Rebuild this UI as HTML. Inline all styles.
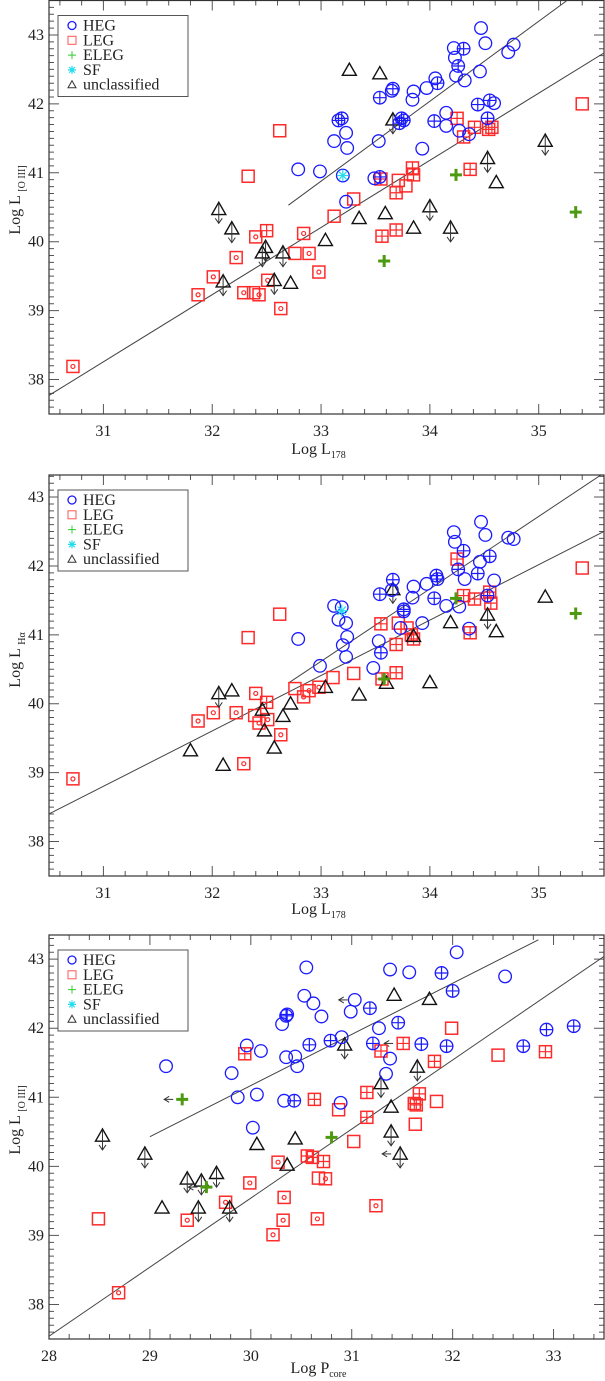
<!DOCTYPE html>
<html><head><meta charset="utf-8"><style>
html,body{margin:0;padding:0;background:#fff;}
svg{display:block;font-family:"Liberation Serif",serif;}
</style></head><body>
<svg id="fig" xmlns="http://www.w3.org/2000/svg" width="605" height="1381" viewBox="0 0 605 1381"></svg>
<script>
// ---------- Panel 1 data: Log L[OIII] vs Log L178 ----------
const p1Heg=[[34.47,43.10],[34.51,42.88],[34.77,42.86],[34.72,42.75],[34.22,42.81],[34.31,42.80,'+'],[34.23,42.67],[34.26,42.55,'+'],[34.24,42.41],[34.32,42.34],[34.46,42.47],[34.05,42.37],[34.07,42.30,'+'],[33.97,42.23],[33.85,42.18],[33.84,42.06],[33.66,42.22,'+'],[33.65,42.19],[33.54,42.09,'+'],[34.44,41.99,'+'],[34.55,42.05,'+'],[34.59,42.01],[34.15,41.87],[34.04,41.75,'+'],[34.15,41.68],[34.27,41.61],[34.36,41.56],[34.53,41.79,'+'],[33.74,41.79,'+'],[33.76,41.76,'+'],[33.72,41.72,'+'],[33.19,41.79,'+'],[33.16,41.76,'+'],[33.23,41.58],[33.12,41.46],[33.24,41.36],[33.53,41.46],[33.93,41.35],[32.99,41.02],[32.79,41.05],[33.49,40.92],[33.54,40.94,'+'],[33.23,40.58],[33.20,40.96]];
const p1Leg=[[32.62,41.61,''],[32.33,40.95,''],[30.72,38.19,'o'],[31.87,39.23,'o'],[32.01,39.49,'o'],[32.22,39.77,'o'],[32.40,40.07,'o'],[32.50,40.16,'+'],[32.29,39.26,'o'],[32.38,39.26,''],[32.43,39.23,'o'],[32.51,39.44,'o'],[32.63,39.03,'o'],[32.84,40.12,'o'],[32.76,39.83,''],[32.89,39.83,'o'],[32.98,39.56,'o'],[33.12,40.37,''],[35.40,42.0,''],[34.25,41.79,'+'],[34.41,41.66,'+'],[34.31,41.52,'+'],[34.54,41.63,'+'],[34.57,41.66,'+'],[34.37,41.05,'+'],[33.84,41.07,'+'],[33.85,40.97,'+'],[33.55,40.91,'+'],[33.71,40.89,''],[33.78,40.81,''],[33.69,40.71,'+'],[33.30,40.62,''],[33.69,40.17,'+'],[33.56,40.08,'+']];
const p1Eleg=[[34.24,40.97],[35.34,40.43],[33.58,39.72]];
const p1Sf=[[33.20,40.96]];
const p1Unc=[[32.06,40.47,'d'],[32.18,40.19,'d'],[32.49,39.92,'d'],[32.46,39.84,'d'],[32.65,39.84,'d'],[32.10,39.42,'d'],[32.57,39.44,'d'],[32.72,39.40,''],[33.04,40.02,''],[33.26,42.49,''],[33.54,42.44,''],[33.66,41.77,'d'],[35.06,41.46,'d'],[34.53,41.21,'d'],[34.61,40.86,''],[33.35,40.34,''],[33.59,40.41,''],[34.0,40.51,'d'],[33.85,40.20,''],[34.19,40.20,'d']];
const p1Lines=[[30.5,37.77,35.6,42.74],[32.70,40.53,35.26,43.5]];
// ---------- Panel 2 data: Log L(Halpha) vs Log L178 ----------
const p2Heg=[[34.47,42.64],[34.51,42.45],[34.72,42.41],[34.77,42.39],[34.22,42.49],[34.23,42.35],[34.31,42.22,'+'],[34.46,42.06],[34.55,42.14,'+'],[34.26,41.95,'+'],[34.32,41.81],[34.44,41.89,'+'],[34.59,41.79],[34.06,41.86,'+'],[34.07,41.81,'+'],[33.97,41.74],[33.85,41.70],[33.84,41.54],[33.66,41.80,'+'],[33.65,41.65],[33.54,41.59,'+'],[34.04,41.53,'+'],[34.15,41.42],[34.27,41.41],[34.53,41.57,'+'],[33.76,41.34,'+'],[33.76,41.37,'+'],[33.12,41.42],[33.19,41.40],[33.16,41.22],[33.23,41.17],[33.24,40.97],[33.20,40.85],[33.23,40.68],[32.99,40.55],[32.79,40.94],[33.53,40.91],[33.55,40.74,'+'],[33.48,40.52],[33.73,41.10],[33.93,41.17],[34.36,41.09]];
const p2Leg=[[32.62,41.30,''],[32.33,40.96,''],[30.72,38.91,'o'],[31.87,39.75,'o'],[32.01,39.87,'o'],[32.22,39.87,'o'],[32.40,40.15,'o'],[32.50,40.02,'+'],[32.43,39.72,'o'],[32.39,39.83,''],[32.51,39.77,'o'],[32.63,39.55,'o'],[32.29,39.13,'o'],[32.76,40.22,''],[32.84,40.10,'o'],[32.89,40.19,'o'],[32.98,40.24,'o'],[33.11,40.38,''],[35.40,41.97,''],[34.25,42.10,'+'],[34.31,41.57,'+'],[34.41,41.52,'+'],[34.55,41.62,'+'],[34.56,41.46,'+'],[34.37,41.03,'+'],[33.55,41.16,'+'],[33.71,41.17,''],[33.79,41.10,''],[33.83,41.0,'+'],[33.85,40.94,'+'],[33.69,40.86,'+'],[33.30,40.44,''],[33.69,40.45,'+'],[33.56,40.36,'+']];
const p2Eleg=[[34.24,41.53],[35.34,41.31],[33.58,40.36]];
const p2Sf=[[33.19,41.35]];
const p2Unc=[[32.06,40.15,'d'],[32.18,40.19,''],[32.46,39.91,''],[32.48,39.61,''],[32.65,39.82,''],[32.72,40.0,''],[32.57,39.36,''],[32.10,39.11,''],[31.80,39.32,''],[33.04,40.24,''],[33.66,41.66,'d'],[35.06,41.55,''],[34.53,41.29,'d'],[34.61,41.05,''],[34.19,41.18,''],[33.85,40.98,''],[33.35,40.13,''],[33.60,40.30,''],[34.0,40.31,'']];
const p2Lines=[[30.5,38.40,35.6,42.50],[32.70,40.30,35.6,43.35]];
// ---------- Panel 3 data: Log L[OIII] vs Log P_core ----------
const p3Heg=[[29.16,41.45],[29.96,41.75],[30.10,41.67],[29.81,41.35],[29.87,41.00],[30.06,41.04],[30.02,40.56],[30.31,42.06],[30.36,42.20,'+'],[30.35,42.18,'+'],[30.53,42.47],[30.62,42.36],[30.70,42.17],[30.35,41.58],[30.44,41.59],[30.46,41.45],[30.58,41.76,'+'],[30.79,41.82,'+'],[30.90,41.87],[30.33,40.95],[30.43,40.95,'+'],[30.89,40.92],[32.04,43.10],[31.38,42.85],[31.57,42.81],[31.89,42.80,'+'],[32.52,42.75],[30.55,42.88],[32.0,42.54,'+'],[31.03,42.41,'l'],[30.99,42.24],[31.18,42.29,'+'],[31.46,42.08,'+'],[31.27,42.0],[31.21,41.78,'+'],[31.69,41.77,'+'],[31.94,41.74,'+'],[31.38,41.56],[31.34,41.34],[32.70,41.74,'+'],[32.93,41.98,'+'],[33.20,42.03,'+']];
const p3Leg=[[29.94,41.63,'+'],[30.63,40.97,'+'],[30.87,40.82,''],[28.49,39.24,''],[28.69,38.17,'o'],[29.37,39.22,'o'],[29.75,39.48,'o'],[29.99,39.76,'o'],[30.27,40.06,'o'],[30.33,39.55,'o'],[30.32,39.22,'o'],[30.22,39.01,'o'],[30.66,39.24,'o'],[30.56,40.15,'+'],[30.61,40.13,'+'],[30.72,40.07,'+'],[30.67,39.83,''],[30.74,39.82,'o'],[31.99,42.0,''],[31.51,41.78,'l'],[31.29,41.67,'+'],[31.82,41.52,'+'],[32.45,41.61,''],[32.92,41.66,'+'],[31.15,41.07,'+'],[31.67,41.05,'+'],[31.62,40.91,'+'],[31.64,40.89,'+'],[31.84,40.94,''],[31.63,40.61,''],[31.15,40.71,'+'],[31.02,40.36,''],[31.24,39.43,'o']];
const p3Eleg=[[29.32,40.97,'l'],[29.56,39.70,'l'],[30.80,40.42]];
const p3Sf=[];
const p3Unc=[[28.53,40.44,'d'],[28.95,40.18,'d'],[29.37,39.82,'d'],[29.51,39.79,'d'],[29.66,39.90,'d'],[29.48,39.40,'d'],[29.79,39.40,'d'],[29.12,39.40,''],[30.06,40.32,''],[30.44,40.40,''],[30.36,40.02,''],[30.93,41.76,'d'],[31.42,42.48,''],[31.77,42.42,''],[31.65,41.44,'d'],[31.29,41.20,'d'],[31.39,40.86,''],[31.39,40.50,'d'],[31.48,40.18,'dl']];
const p3Lines=[[29.0,40.43,32.85,43.28],[28.0,37.54,33.5,43.04]];
const xTicks12=[31,32,33,34,35];
const xTicks3=[28,29,30,31,32,33];
const yTicks=[38,39,40,41,42,43];
const legendLabels=['HEG','LEG','ELEG','SF','unclassified'];

const NS='http://www.w3.org/2000/svg';
const svg=document.getElementById('fig');
function mk(tag,attrs,parent){const e=document.createElementNS(NS,tag);for(const k in attrs)e.setAttribute(k,attrs[k]);(parent||svg).appendChild(e);return e;}
const BLUE='#1a1aff',RED='#ff2a2a',GREEN='#4d9a10',CYAN='#22ddee',BLACK='#111';

function arrowDown(g,cx,cy,len){mk('line',{x1:cx,y1:cy-6,x2:cx,y2:cy+len,stroke:'#333','stroke-width':1},g);mk('polyline',{points:`${cx-3.5},${cy+len-5} ${cx},${cy+len} ${cx+3.5},${cy+len-5}`,fill:'none',stroke:'#333','stroke-width':1},g);}
function arrowLeft(g,cx,cy){mk('line',{x1:cx-4,y1:cy,x2:cx-13,y2:cy,stroke:'#333','stroke-width':1},g);mk('polyline',{points:`${cx-8},${cy-3} ${cx-13},${cy} ${cx-8},${cy+3}`,fill:'none',stroke:'#333','stroke-width':1},g);}
function circ(g,cx,cy,f,r){mk('circle',{cx,cy,r:r||6.3,fill:'none',stroke:BLUE,'stroke-width':1.3},g);if(f==='+'){mk('path',{d:`M${cx-6.3},${cy}H${cx+6.3}M${cx},${cy-6.3}V${cy+6.3}`,stroke:BLUE,'stroke-width':1.2},g);}if(f==='l')arrowLeft(g,cx-3,cy);}
function sq(g,cx,cy,f,s){s=s||6;mk('rect',{x:cx-s,y:cy-s,width:2*s,height:2*s,fill:'none',stroke:RED,'stroke-width':1.5},g);if(f==='o')mk('circle',{cx,cy,r:2,fill:'none',stroke:RED,'stroke-width':1.2},g);if(f==='+'||f==='l')mk('path',{d:`M${cx-s},${cy}H${cx+s}M${cx},${cy-s}V${cy+s}`,stroke:RED,'stroke-width':1.2},g);if(f==='l')arrowLeft(g,cx-6,cy);}
function tri(g,cx,cy,f,s){s=s||7;mk('polygon',{points:`${cx},${cy-s} ${cx-s},${cy+s*0.75} ${cx+s},${cy+s*0.75}`,fill:'none',stroke:BLACK,'stroke-width':1.4},g);if(f&&f.indexOf('d')>=0)arrowDown(g,cx,cy,14);if(f&&f.indexOf('l')>=0)arrowLeft(g,cx-5,cy);}
function plus(g,cx,cy,f,s,w){s=s||6;mk('path',{d:`M${cx-s},${cy}H${cx+s}M${cx},${cy-s}V${cy+s}`,stroke:GREEN,'stroke-width':w||3},g);if(f==='l')arrowLeft(g,cx-5,cy);}
function star(g,cx,cy,s){s=s||6;let d='';for(let i=0;i<4;i++){const a=i*Math.PI/4;d+=`M${cx-s*Math.cos(a)},${cy-s*Math.sin(a)}L${cx+s*Math.cos(a)},${cy+s*Math.sin(a)}`;}mk('path',{d,stroke:CYAN,'stroke-width':1.2},g);}

function panel(o){
  const g=mk('g',{});
  
  
  const X=v=>o.L+(v-o.x0)/(o.x1-o.x0)*(o.R-o.L);
  const Y=v=>o.B-(v-o.y0)/(o.y1-o.y0)*(o.B-o.T);
  const tg=mk('g',{},g);
  
  
  let d='';
  for(let v=Math.ceil(o.x0*5)/5;v<=o.x1+1e-6;v+=0.2){const px=X(v);const major=Math.abs(v-Math.round(v))<1e-6;const l=major?10:5;d+=`M${px},${o.B}V${o.B-l}M${px},${o.T}V${o.T+l}`;}
  for(let v=Math.ceil(o.y0*10)/10;v<=o.y1+1e-6;v+=0.1){const py=Y(v);const major=Math.abs(v-Math.round(v))<1e-6;const l=major?10:5;d+=`M${o.L},${py}H${o.L+l}M${o.R},${py}H${o.R-l}`;}
  mk('path',{d,stroke:'#555','stroke-width':1},tg);
  o.xt.forEach(v=>{const t=mk('text',{x:X(v),y:o.B+22,'text-anchor':'middle','font-size':16,fill:'#222'},g);t.textContent=v;});
  yTicks.forEach(v=>{const t=mk('text',{x:o.L-5,y:Y(v)+5,'text-anchor':'end','font-size':16,fill:'#222'},g);t.textContent=v;});
  const fr=mk('rect',{x:o.L,y:o.T,width:o.R-o.L,height:o.B-o.T,fill:'none',stroke:'#333','stroke-width':1.2},g);
  
  
  const xt=mk('text',{x:(o.L+o.R)/2-8,y:o.B+o.xty,'text-anchor':'middle','font-size':16,fill:'#222'},g);
  xt.innerHTML=o.xlab+'<tspan font-size="10" dy="4">'+o.xsub+'</tspan>';
  
  
  const yc=o.ylabY;
  const yt=mk('text',{x:0,y:0,'text-anchor':'middle','font-size':16,fill:'#222',transform:`translate(20,${yc}) rotate(-90)`},g);
  yt.innerHTML=o.ylab+'<tspan font-size="10" dy="5">'+o.ysub+'</tspan>';
  
  
  const cid='c'+o.name;
  const cp=mk('clipPath',{id:cid},g);mk('rect',{x:o.L,y:o.T,width:o.R-o.L,height:o.B-o.T},cp);
  const pg=mk('g',{'clip-path':`url(#${cid})`},g);
  
  
  o.lines.forEach(l=>{const ln=mk('line',{x1:X(l[0]),y1:Y(l[1]),x2:X(l[2]),y2:Y(l[3]),stroke:'#444','stroke-width':1},pg);});
  o.leg.forEach(p=>{const m=mk('g',{},pg);sq(m,X(p[0]),Y(p[1]),p[2]);});
  o.unc.forEach(p=>{const m=mk('g',{},pg);tri(m,X(p[0]),Y(p[1]),p[2]);});
  o.heg.forEach(p=>{const m=mk('g',{},pg);circ(m,X(p[0]),Y(p[1]),p[2]);});
  o.eleg.forEach(p=>{const m=mk('g',{},pg);plus(m,X(p[0]),Y(p[1]),p[2]);});
  o.sf.forEach(p=>{const m=mk('g',{},pg);star(m,X(p[0]),Y(p[1]));});
  const lg=mk('g',{},g);
  
  
  const lt=o.T+15;
  mk('rect',{x:58,y:lt,width:130,height:81,fill:'#fff',stroke:'#555','stroke-width':1},lg);
  legendLabels.forEach((lab,i)=>{
    const cy=lt+10+i*14.8;
    const e=mk('g',{},lg);
    
    
    if(i===0)circ(e,72,cy,'',4);
    if(i===1)mk('rect',{x:68,y:cy-4,width:8,height:8,fill:'none',stroke:'#f55','stroke-width':1},e);
    if(i===2)mk('path',{d:`M68,${cy}H76M72,${cy-4}V${cy+4}`,stroke:'#3c3','stroke-width':1},e);
    if(i===3)star(e,72,cy,4);
    if(i===4)mk('polygon',{points:`72,${cy-4} 68,${cy+3} 76,${cy+3}`,fill:'none',stroke:'#333','stroke-width':1},e);
    const t=mk('text',{x:83,y:cy+5,'font-size':16,fill:'#222'},e);t.textContent=lab;
  });
}

panel({name:'panel-oiii-vs-l178',L:49,R:604,T:0.5,B:414,x0:30.5,x1:35.6,y0:37.5,y1:43.5,xt:xTicks12,xty:40,
  xlab:'Log  L',xsub:'178',ylab:'Log  L ',ysub:'[O III]',ylabY:200,
  heg:p1Heg,leg:p1Leg,eleg:p1Eleg,sf:p1Sf,unc:p1Unc,lines:p1Lines});
panel({name:'panel-halpha-vs-l178',L:49,R:604,T:475,B:876,x0:30.5,x1:35.6,y0:37.5,y1:43.32,xt:xTicks12,xty:38,
  xlab:'Log  L',xsub:'178',ylab:'Log  L ',ysub:'Hα',ylabY:660,
  heg:p2Heg,leg:p2Leg,eleg:p2Eleg,sf:p2Sf,unc:p2Unc,lines:p2Lines});
panel({name:'panel-oiii-vs-pcore',L:49,R:604,T:935,B:1339,x0:28,x1:33.5,y0:37.5,y1:43.35,xt:xTicks3,xty:34,
  xlab:'Log  P',xsub:'core',ylab:'Log  L ',ysub:'[O III]',ylabY:1120,
  heg:p3Heg,leg:p3Leg,eleg:p3Eleg,sf:p3Sf,unc:p3Unc,lines:p3Lines});
</script>
</body></html>
